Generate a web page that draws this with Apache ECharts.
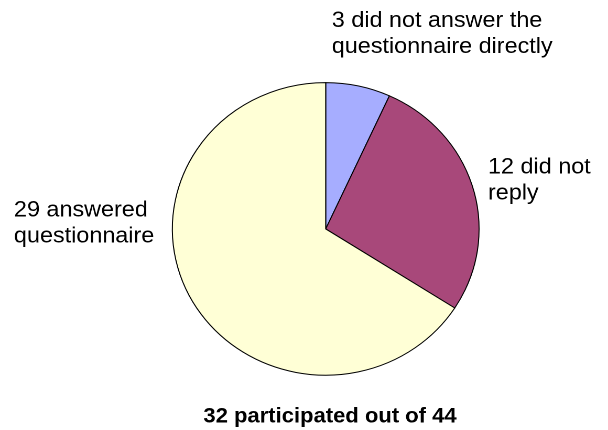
<!DOCTYPE html>
<html>
<head>
<meta charset="utf-8">
<script src="https://cdn.jsdelivr.net/npm/echarts@6/dist/echarts.min.js"></script>
<style>
html,body{margin:0;padding:0;background:#fff;overflow:hidden;}
#wrap{width:608px;height:430px;overflow:hidden;}
#chart{width:580px;height:430px;transform:scaleX(1.0483);transform-origin:0 0;}
</style>
</head>
<body>
<div id="wrap"><div id="chart"></div></div>
<script>
const categories = ['did not answer the\nquestionnaire directly', 'did not\nreply', 'answered\nquestionnaire'];
const values = [3, 12, 29];
const colors = ['#A6ADFF', '#A8487A', '#FFFFD6'];
const titleText = '32 participated out of 44';

const labelPos = [
  {x: 316.5, y: 8},
  {x: 465.5, y: 154.5},
  {x: 13.3, y: 197.5}
];

const chart = echarts.init(document.getElementById('chart'), null, {renderer: 'canvas', devicePixelRatio: 2});
chart.setOption({
  animation: false,
  backgroundColor: '#ffffff',
  title: {
    text: titleText,
    left: 314.8,
    top: 406,
    textAlign: 'center',
    padding: 0,
    textStyle: {fontFamily: 'Liberation Sans', fontSize: 21, fontWeight: 'bold', color: '#000'}
  },
  series: [{
    type: 'pie',
    center: [310.7, 228.9],
    radius: [0, 146.3],
    startAngle: 90,
    clockwise: true,
    avoidLabelOverlap: false,
    data: categories.map((c, i) => ({
      name: c, value: values[i],
      itemStyle: {color: colors[i]}
    })),
    itemStyle: {borderColor: '#000', borderWidth: 1},
    emphasis: {disabled: true},
    label: {
      show: true,
      position: 'outside',
      formatter: p => p.value + ' ' + p.name,
      fontFamily: 'Liberation Sans',
      fontSize: 22.3,
      lineHeight: 26,
      color: '#000'
    },
    labelLine: {show: false},
    labelLayout: function (params) {
      const p = labelPos[params.dataIndex];
      return {x: p.x, y: p.y, align: 'left', verticalAlign: 'top'};
    }
  }]
});
</script>
</body>
</html>
